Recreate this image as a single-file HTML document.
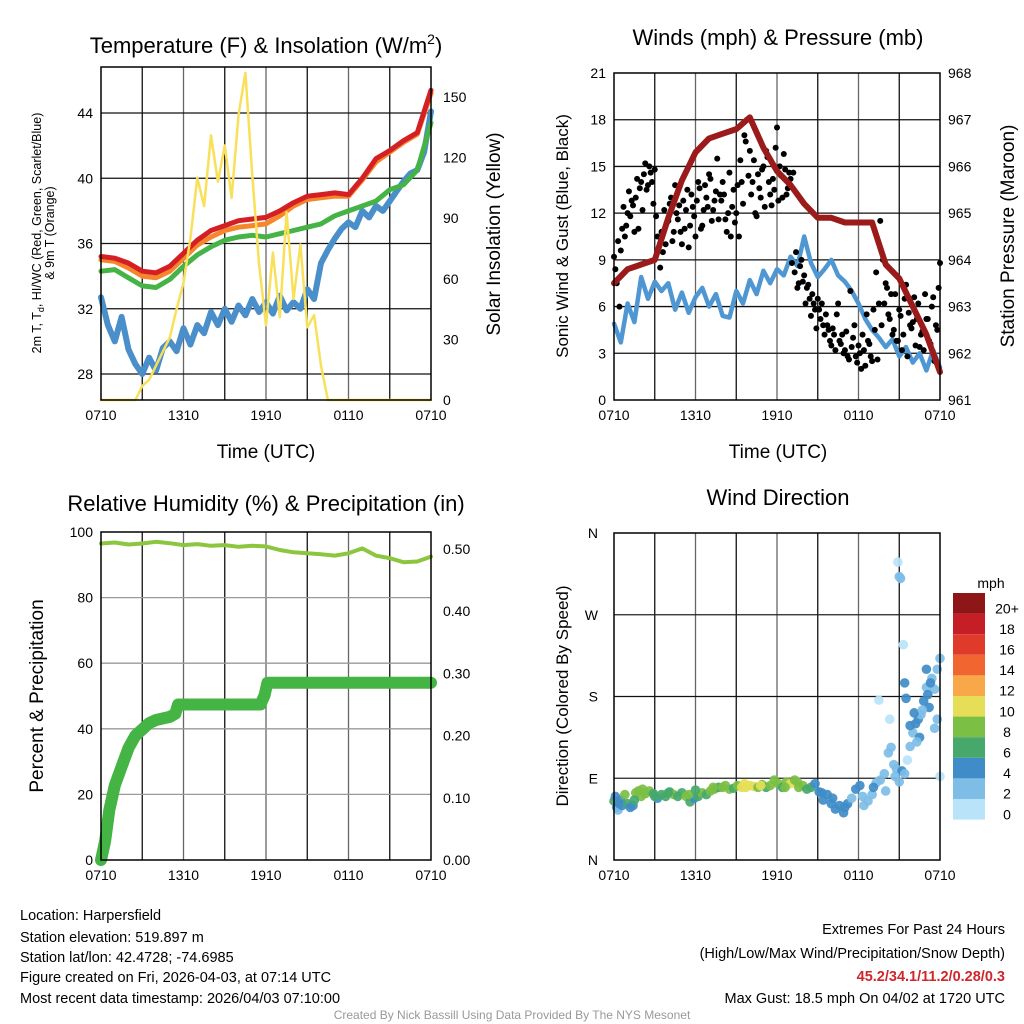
<!DOCTYPE html>
<html><head><meta charset="utf-8"><style>
html,body{margin:0;padding:0;background:#fff;}
svg{display:block;font-family:"Liberation Sans",Arial,sans-serif;}
</style></head><body>
<svg id="chart" width="1024" height="1024" viewBox="0 0 1024 1024" xmlns="http://www.w3.org/2000/svg">
<rect width="1024" height="1024" fill="#fff"/>
<g id="g1"></g>
<g id="g2"></g>
<g id="g3"></g>
<g id="g4"></g>
<g font-size="22" text-anchor="middle" fill="#000">
<text x="266" y="53">Temperature (F) &amp; Insolation (W/m<tspan dy="-9" font-size="14">2</tspan><tspan dy="9">)</tspan></text>
<text x="778" y="45">Winds (mph) &amp; Pressure (mb)</text>
<text x="266" y="511">Relative Humidity (%) &amp; Precipitation (in)</text>
<text x="778" y="505">Wind Direction</text>
</g>
<g font-size="19" text-anchor="middle">
<text x="266" y="458">Time (UTC)</text>
<text x="778" y="458">Time (UTC)</text>
<text transform="translate(500,234) rotate(-90)">Solar Insolation (Yellow)</text>
<text transform="translate(1014,236) rotate(-90)">Station Pressure (Maroon)</text>
<text transform="translate(568,236) rotate(-90)" font-size="17">Sonic Wind &amp; Gust (Blue, Black)</text>
<text transform="translate(43,696) rotate(-90)">Percent &amp; Precipitation</text>
<text transform="translate(568,696) rotate(-90)" font-size="17">Direction (Colored By Speed)</text>
<text transform="translate(41,233) rotate(-90)" font-size="12.5">2m T, T<tspan dy="3" font-size="9">d</tspan><tspan dy="-3">, HI/WC (Red, Green, Scarlet/Blue)</tspan></text>
<text transform="translate(54,233) rotate(-90)" font-size="12.5">&amp; 9m T (Orange)</text>
</g>
<g font-size="14.5" fill="#000">
<text x="20" y="920">Location: Harpersfield</text>
<text x="20" y="942">Station elevation: 519.897 m</text>
<text x="20" y="962">Station lat/lon: 42.4728; -74.6985</text>
<text x="20" y="982">Figure created on Fri, 2026-04-03, at 07:14 UTC</text>
<text x="20" y="1003">Most recent data timestamp: 2026/04/03 07:10:00</text>
<g text-anchor="end">
<text x="1005" y="934">Extremes For Past 24 Hours</text>
<text x="1005" y="958">(High/Low/Max Wind/Precipitation/Snow Depth)</text>
<text x="1005" y="981" fill="#d0262b" font-weight="bold">45.2/34.1/11.2/0.28/0.3</text>
<text x="1005" y="1003">Max Gust: 18.5 mph On 04/02 at 1720 UTC</text>
</g>
<text x="512" y="1019" text-anchor="middle" font-size="12" fill="#999">Created By Nick Bassill Using Data Provided By The NYS Mesonet</text>
</g>
</svg>
<script>
// ---------- data ----------
const timeTicks = ["0710","1310","1910","0110","0710"];
const tempTicks = [28,32,36,40,44];
const solarTicks = [0,30,60,90,120,150];
const windTicks = [0,3,6,9,12,15,18,21];
const pressTicks = [961,962,963,964,965,966,967,968];
const rhTicks = [0,20,40,60,80,100];
const precipTicks = ["0.00","0.10","0.20","0.30","0.40","0.50"];
const dirTicks = ["N","E","S","W","N"];
const speedLabels = ["20+","18","16","14","12","10","8","6","4","2","0"];

const tempRed = [35.2,35.1,34.8,34.3,34.2,34.6,35.4,36.2,36.8,37.1,37.4,37.5,37.6,38.0,38.5,38.9,39.0,39.1,39.0,40.0,41.2,41.7,42.3,42.8,45.4];
const tempOrange = [35.0,34.9,34.5,34.0,33.9,34.3,35.1,35.9,36.4,36.8,37.0,37.1,37.2,37.7,38.3,38.7,38.8,38.9,38.9,39.9,41.0,41.6,42.2,42.7,45.2];
const tempGreen = [34.3,34.4,33.9,33.4,33.3,33.8,34.6,35.3,35.8,36.2,36.4,36.5,36.4,36.6,36.8,37.0,37.2,37.7,38.0,38.3,38.6,39.3,39.6,40.5,43.4];
const tempBlue = [32.7,31.0,30.0,31.5,29.5,28.6,28.0,29.0,28.2,29.6,30.0,29.4,30.8,29.8,31.0,30.5,31.8,31.0,32.0,31.2,32.2,31.6,32.6,31.8,32.4,31.7,32.8,31.9,32.4,32.0,33.2,32.6,34.8,35.6,36.3,36.9,37.3,37.0,38.0,37.6,38.3,38.0,38.6,39.2,39.8,40.3,40.5,41.6,44.1];
const solar = [0,0,0,0,0,0,7,10,17,24,31,45,58,80,110,96,131,108,126,100,141,162,111,67,37,73,41,93,50,77,36,42,17,0,0,0,0,0,0,0,0,0,0,0,0,0,0,0,0];

const pressure = [963.5,963.8,963.9,964.0,964.9,965.7,966.3,966.6,966.7,966.8,967.05,966.4,965.9,965.6,965.2,964.9,964.9,964.8,964.8,964.8,963.9,963.6,963.0,962.4,961.6];
const wind = [4.9,3.7,6.2,5.0,7.9,6.5,7.6,7.0,7.5,5.8,6.9,5.6,6.6,7.2,6.0,6.8,5.4,5.3,7.0,6.2,7.7,6.8,8.3,7.5,8.4,8.0,9.2,8.6,10.5,8.8,7.9,8.4,9.0,8.0,7.6,7.0,6.2,5.2,4.5,4.0,3.4,3.9,2.8,3.4,2.4,3.0,1.9,3.2,2.1];
const gust = [9.2,7.5,6,11,10.5,12,11.8,12.5,13,11,14,14.5,13.5,15,14,14.8,10.5,8.5,9.5,10,11.5,13,10.8,12,12.5,10,11,13.5,11.2,12.4,10.5,14,11,12.2,13,14.5,11.5,12.8,15.5,13.2,14,11.6,12,10.5,13.5,12,10.5,14,17,18,16,14,12,14.5,13,15,16,14,12.5,13.5,17.5,15,13,14.8,13.6,14.2,14.6,9.5,7.5,9,8,7.2,6.5,6.8,5.8,6.5,5.2,4.8,5.5,4.5,3.5,4.2,5.5,3.8,4.2,3.2,2.8,7,4.0,2.8,3.5,2.0,3.2,5.5,3.6,2.5,4.5,2.6,11.5,9.0,7.5,5.5,6.8,4.5,3.8,5.8,3.2,6.5,2.8,4.8,5.0,3.5,6.2,4.2,3.2,5.2,3.8,6.0,2.5,4.5,8.8];
const gust2 = [8.4,10.2,9.6,12.4,11.2,13.4,12.8,10.8,14.2,13.6,12.2,15.2,13.8,14.6,12.6,11.8,9.8,10.8,12.2,11.4,12.6,10.2,13.8,11.6,10.8,12.8,12.2,9.8,13.2,11.8,12.8,13.6,11.2,13.8,12.4,14.2,12.2,13.4,11.6,12.8,13.2,10.8,14.6,12.4,11.4,13.8,15.4,12.6,16.6,14.4,13.2,15.4,11.8,13.6,14.8,12.4,15.6,13.2,14.2,16.2,12.8,14.4,15.8,13.2,14.6,8.8,8.2,7.2,8.6,7.6,6.2,7.4,5.4,6.2,4.6,5.8,6.2,4.2,4.8,3.8,4.6,3.2,6.2,3.6,3.0,4.4,2.6,3.4,4.8,2.4,3.0,4.2,2.2,3.8,2.8,5.8,8.2,6.2,4.8,6.2,7.2,5.2,4.2,6.8,3.8,5.4,4.2,7.4,5.6,4.6,6.6,5.2,3.4,4.4,6.8,5.2,3.6,6.6,4.8,7.2];

const rh = [96.5,96.8,96.2,96.5,97.0,96.6,96.0,96.3,95.8,96.0,95.5,95.8,95.6,94.5,93.8,93.5,93.2,92.8,93.5,95.0,92.8,92.0,90.8,91.0,92.5];
const precipHours = [0,0.3,0.6,1,1.5,2,2.5,3,3.5,4,5,5.4,5.6,8,11.6,11.9,12.1,24];
const precipValues = [0,0.03,0.08,0.12,0.15,0.18,0.2,0.21,0.22,0.225,0.23,0.235,0.25,0.25,0.25,0.265,0.285,0.285];

const dirHours = [0.0,0.1,0.2,0.3,0.4,0.5,0.6,0.8,1.0,1.2,1.4,1.6,1.8,2.0,2.3,2.6,2.9,3.2,3.5,3.8,4.1,4.4,4.7,5.0,5.3,5.6,5.9,6.2,6.5,6.8,7.1,7.4,7.7,8.0,8.2,8.5,8.8,9.1,9.4,9.7,10.0,10.3,10.6,10.9,11.2,11.5,11.8,12.1,12.4,12.7,13.0,13.3,13.6,13.9,14.2,14.5,14.8,15.1,15.4,15.7,16.0,16.3,16.6,16.9,17.2,17.5,17.8,18.1,18.4,18.7,19.0,19.3,19.6,19.9,20.2,20.4,20.6,20.8,21.0,21.2,21.4,21.6,21.8,22.0,22.2,22.4,22.6,22.8,23.0,23.2,23.4,23.6,23.8,24.0,19.5,20.3,20.9,21.0,21.1,21.3,21.4,21.5,21.8,22.1,22.5,22.7,23.0,23.3,23.6,23.8,24.0,1.5,2.1,3.0,4.0,5.5,6.0,7.3,9.6,10.8,12.6,13.5,15.3,16.1,17.0,18.3,19.1,20.0,20.7,22.3,23.1];
const dirValues = [65,70,58,55,62,66,60,72,62,58,60,74,76,70,73,76,73,68,72,70,75,72,70,74,70,64,68,70,74,72,76,78,80,80,82,78,79,82,80,80,82,81,80,83,80,82,88,84,80,86,84,88,80,82,78,80,84,75,66,72,62,56,60,52,62,68,78,82,60,65,72,85,88,95,118,124,105,100,86,98,95,110,125,140,150,155,160,175,190,168,200,188,210,222,176,155,328,312,310,237,195,178,148,162,135,165,210,195,145,155,92,66,78,70,74,72,77,80,84,82,80,86,74,68,58,70,80,76,92,130,182];
const dirSpeeds = [5,4,3,2,4,4,4,7,6,4,4,7,7,8,8,7,6,4,6,5,6,7,5,6,8,6,4,6,7,6,8,8,6,8,8,7,6,8,10,10,10,9,7,8,6,7,7,8,6,8,10,8,7,8,6,6,4,4,4,3,3,4,3,3,3,2,3,4,2,2,2,2,2,2,2,1,2,2,2,4,1,0,2,1,3,3,2,3,2,3,2,2,2,2,0,0,0,2,2,0,3,3,4,4,4,2,3,4,2,2,0,6,7,6,6,7,6,8,10,9,8,8,4,4,3,2,3,2,2,2,3];

// ---------- helpers ----------
const NS = "http://www.w3.org/2000/svg";
function mk(parent, tag, attrs){const e=document.createElementNS(NS,tag);for(const k in attrs)e.setAttribute(k,attrs[k]);parent.appendChild(e);return e;}
function linScale(d0,d1,r0,r1){return v=>r0+(v-d0)*(r1-r0)/(d1-d0);}
function series(arr){return arr.map((v,i)=>[24*i/(arr.length-1),v]);}
function pathD(pts,xs,ys){return pts.map((p,i)=>(i?"L":"M")+xs(p[0]).toFixed(1)+","+ys(p[1]).toFixed(1)).join("");}

function frame(g,x0,x1,y0,y1,xLabels){
  const xs=linScale(0,24,x0,x1);
  for(let h=3;h<24;h+=3){
    const l=mk(g,"line",{x1:xs(h),x2:xs(h),y1:y0,y2:y1,stroke:(h%6===0)?"#666":"#111","stroke-width":1.3});
    
    
  }
  if(xLabels){
    xLabels.forEach((t,i)=>{
      const tx=mk(g,"text",{x:xs(i*6),y:y1+20,"font-size":14,"text-anchor":"middle"});
      tx.textContent=t;
      
      
    });
  }
  return xs;
}
function hgrid(g,x0,x1,y,color){
  const l=mk(g,"line",{x1:x0,x2:x1,y1:y,y2:y,stroke:color,"stroke-width":1.3});
  
  
}
function border(g,x0,x1,y0,y1){
  const r=mk(g,"rect",{x:x0,y:y0,width:x1-x0,height:y1-y0,fill:"none",stroke:"#000","stroke-width":1.5});
  
  
}
function ylabel(g,x,y,t,anchor){
  const tx=mk(g,"text",{x:x,y:y+5,"font-size":14,"text-anchor":anchor});
  tx.textContent=t;
  
  
}
function line(g,d,color,w,name){
  const p=mk(g,"path",{d:d,fill:"none",stroke:color,"stroke-width":w,"stroke-linejoin":"round","stroke-linecap":"round"});
  
  
}

// ---------- panel 1 ----------
(function(){
  const g=document.getElementById("g1");
  const X0=101,X1=431,Y0=67,Y1=400;
  const xs=frame(g,X0,X1,Y0,Y1,timeTicks);
  const ys=linScale(28,44,374,113);
  const ys2=linScale(0,150,400,97);
  tempTicks.forEach(v=>{hgrid(g,X0,X1,ys(v),"#111");ylabel(g,X0-8,ys(v),String(v),"end");});
  solarTicks.forEach(v=>ylabel(g,X1+12,ys2(v),String(v),"start"));
  line(g,pathD(series(tempBlue),xs,ys),"#4a8fc9",6,"temp-blue-line");
  line(g,pathD(series(tempGreen),xs,ys),"#46b346",5,"dewpoint-green-line");
  line(g,pathD(series(tempOrange),xs,ys),"#f5862b",5,"temp-9m-orange-line");
  line(g,pathD(series(tempRed),xs,ys),"#d42025",5,"temp-2m-red-line");
  line(g,pathD(series(solar),xs,ys2),"#f9e05a",2.5,"solar-yellow-line");
  border(g,X0,X1,Y0,Y1);
})();

// ---------- panel 2 ----------
(function(){
  const g=document.getElementById("g2");
  const X0=614,X1=940,Y0=73,Y1=400;
  const xs=frame(g,X0,X1,Y0,Y1,timeTicks);
  const ys=linScale(0,21,400,73);
  const ys2=linScale(961,968,400,73);
  windTicks.forEach(v=>{if(v>0&&v<21)hgrid(g,X0,X1,ys(v),"#111");ylabel(g,X0-8,ys(v),String(v),"end");});
  pressTicks.forEach(v=>ylabel(g,X1+8,ys2(v),String(v),"start"));
  line(g,pathD(series(wind),xs,ys),"#4f97d2",4.5,"wind-speed-line");
  series(gust).forEach(p=>{
    const c=mk(g,"circle",{cx:xs(p[0]),cy:ys(p[1]),r:3,fill:"#000"});
    
    
  });
  gust2.forEach((v,i)=>{
    const c=mk(g,"circle",{cx:xs(0.1+0.2*i),cy:ys(v),r:3,fill:"#000"});
    
    
  });
  line(g,pathD(series(pressure),xs,ys2),"#9b1a1a",6,"pressure-line");
  border(g,X0,X1,Y0,Y1);
})();

// ---------- panel 3 ----------
(function(){
  const g=document.getElementById("g3");
  const X0=101,X1=431,Y0=532,Y1=860;
  const xs=frame(g,X0,X1,Y0,Y1,timeTicks);
  const ys=linScale(0,100,860,532);
  const ys2=linScale(0,0.5,860,549);
  rhTicks.forEach(v=>{if(v>0&&v<100)hgrid(g,X0,X1,ys(v),"#999");ylabel(g,X0-8,ys(v),String(v),"end");});
  precipTicks.forEach(t=>ylabel(g,X1+12,ys2(parseFloat(t)),t,"start"));
  line(g,pathD(series(rh),xs,ys),"#8cc63f",4,"humidity-line");
  const pts=precipHours.map((h,i)=>[h,precipValues[i]]);
  line(g,pathD(pts,xs,ys2),"#44b444",12,"precipitation-line");
  border(g,X0,X1,Y0,Y1);
})();

// ---------- panel 4 ----------
(function(){
  const g=document.getElementById("g4");
  const X0=614,X1=940,Y0=533,Y1=860;
  const xs=frame(g,X0,X1,Y0,Y1,timeTicks);
  const ys=linScale(0,360,860,533);
  dirTicks.forEach((t,i)=>{if(i>0&&i<4)hgrid(g,X0,X1,ys(i*90),i===2?"#111":"#222");ylabel(g,X0-16,ys(i*90),t,"end");});
  const colors=["#b9e3f8","#7dbde6","#3f8cc8","#47a86b","#7bbf44","#e6de57","#f8a849","#f06530","#e03a2b","#c51e26","#8f1616"];
  dirHours.forEach((h,i)=>{
    const ci=Math.min(10,Math.round(dirSpeeds[i]/2));
    const c=mk(g,"circle",{cx:xs(h),cy:ys(dirValues[i]),r:4.8,fill:colors[ci],"fill-opacity":0.92});
    
    
  });
  border(g,X0,X1,Y0,Y1);
  const cbTop=593,bh=20.6;
  const t=mk(g,"text",{x:991,y:588,"font-size":14,"text-anchor":"middle"});
  t.textContent="mph";
  
  
  speedLabels.forEach((lab,i)=>{
    const r=mk(g,"rect",{x:953,y:cbTop+i*bh,width:32,height:bh,fill:colors[10-i]});
    
    
    const tx=mk(g,"text",{x:1007,y:cbTop+i*bh+bh/2+10,"font-size":14,"text-anchor":"middle"});
    tx.textContent=lab;
    
    
  });
})();
</script>
</body></html>
